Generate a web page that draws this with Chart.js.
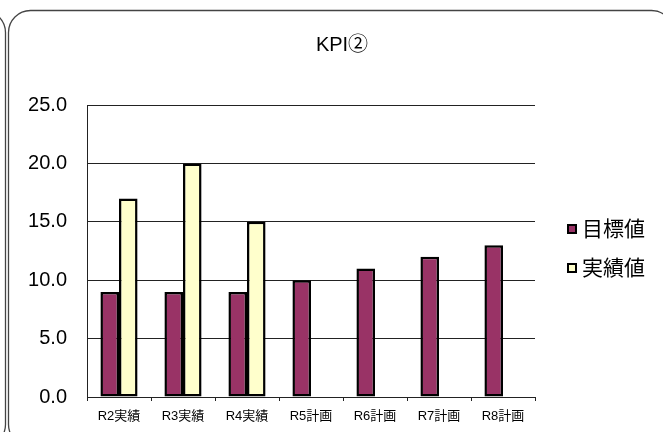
<!DOCTYPE html>
<html>
<head>
<meta charset="utf-8">
<script src="https://cdn.jsdelivr.net/npm/chart.js@4/dist/chart.umd.min.js"></script>
<style>
html,body{margin:0;padding:0;background:#fff;}
#wrap{width:663px;height:432px;position:relative;}
</style>
</head>
<body>
<div id="wrap"><canvas id="c" width="663" height="432"></canvas></div>
<script>
const categories = ['R2実績','R3実績','R4実績','R5計画','R6計画','R7計画','R8計画'];
const targetValues = [9, 9, 9, 10, 11, 12, 13];
const actualValues = [17, 20, 15, null, null, null, null];
const seriesNames = ['目標値', '実績値'];
const titleText = 'KPI②';
const yMin = 0, yMax = 25, yStep = 5;

const latin = '"Liberation Sans", "Noto Sans CJK JP", sans-serif';
const cjk = '"Liberation Sans", "Noto Sans CJK JP", sans-serif';

const decor = {
  id: 'decor',
  beforeDraw(chart) {
    const ctx = chart.ctx;
    ctx.save();
    ctx.fillStyle = '#fff';
    ctx.fillRect(0, 0, chart.width, chart.height);
    ctx.strokeStyle = '#444';
    ctx.lineWidth = 1.3;
    ctx.beginPath();
    ctx.roundRect(8.5, 10.5, 665, 436, 22);
    ctx.stroke();
    ctx.beginPath();
    ctx.roundRect(-300, 10.5, 305.5, 436, 22);
    ctx.stroke();
    ctx.restore();
  },
  afterDraw(chart) {
    const ctx = chart.ctx;
    ctx.save();
    ctx.fillStyle = '#000';
    ctx.font = '20px ' + latin;
    ctx.textAlign = 'center';
    ctx.textBaseline = 'middle';
    ctx.fillText(titleText, 342, 45);
    const ys = [229, 268];
    chart.data.datasets.forEach((ds, i) => {
      const y = ys[i];
      ctx.fillStyle = ds.backgroundColor;
      ctx.fillRect(568, y - 4, 8, 8);
      ctx.strokeStyle = '#000';
      ctx.lineWidth = 2;
      ctx.strokeRect(568, y - 4, 8, 8);
      ctx.fillStyle = '#000';
      ctx.font = '21px ' + cjk;
      ctx.textAlign = 'left';
      ctx.textBaseline = 'middle';
      ctx.fillText(ds.label, 582, y + 1);
    });
    ctx.restore();
  }
};

new Chart(document.getElementById('c'), {
  type: 'bar',
  data: {
    labels: categories,
    datasets: [
      { label: seriesNames[0], data: targetValues, backgroundColor: '#993366', borderColor: '#000', borderWidth: 2.5, borderSkipped: false },
      { label: seriesNames[1], data: actualValues, backgroundColor: '#FFFFCC', borderColor: '#000', borderWidth: 2.5, borderSkipped: false }
    ]
  },
  options: {
    responsive: false,
    animation: false,
    devicePixelRatio: 1,
    layout: { padding: { left: 0, right: 128, top: 105, bottom: 0 } },
    categoryPercentage: 0.58,
    barPercentage: 1.0,
    plugins: { legend: { display: false }, title: { display: false }, tooltip: { enabled: false } },
    scales: {
      x: {
        afterFit(s) { s.height = 35; },
        grid: { display: true, drawOnChartArea: false, drawTicks: true, tickLength: 4, offset: true, color: '#222', lineWidth: 1 },
        border: { display: true, color: '#222', width: 1 },
        ticks: { color: '#000', font: { family: cjk, size: 13 }, padding: 8, maxRotation: 0, autoSkip: false }
      },
      y: {
        min: yMin, max: yMax,
        afterFit(s) { s.width = 87; },
        grid: { color: '#222', lineWidth: 1, drawTicks: false },
        border: { display: true, color: '#222', width: 1 },
        ticks: { stepSize: yStep, color: '#000', font: { family: latin, size: 20 }, padding: 20,
          callback: v => Number(v).toFixed(1) }
      }
    }
  },
  plugins: [decor]
});
</script>
</body>
</html>
